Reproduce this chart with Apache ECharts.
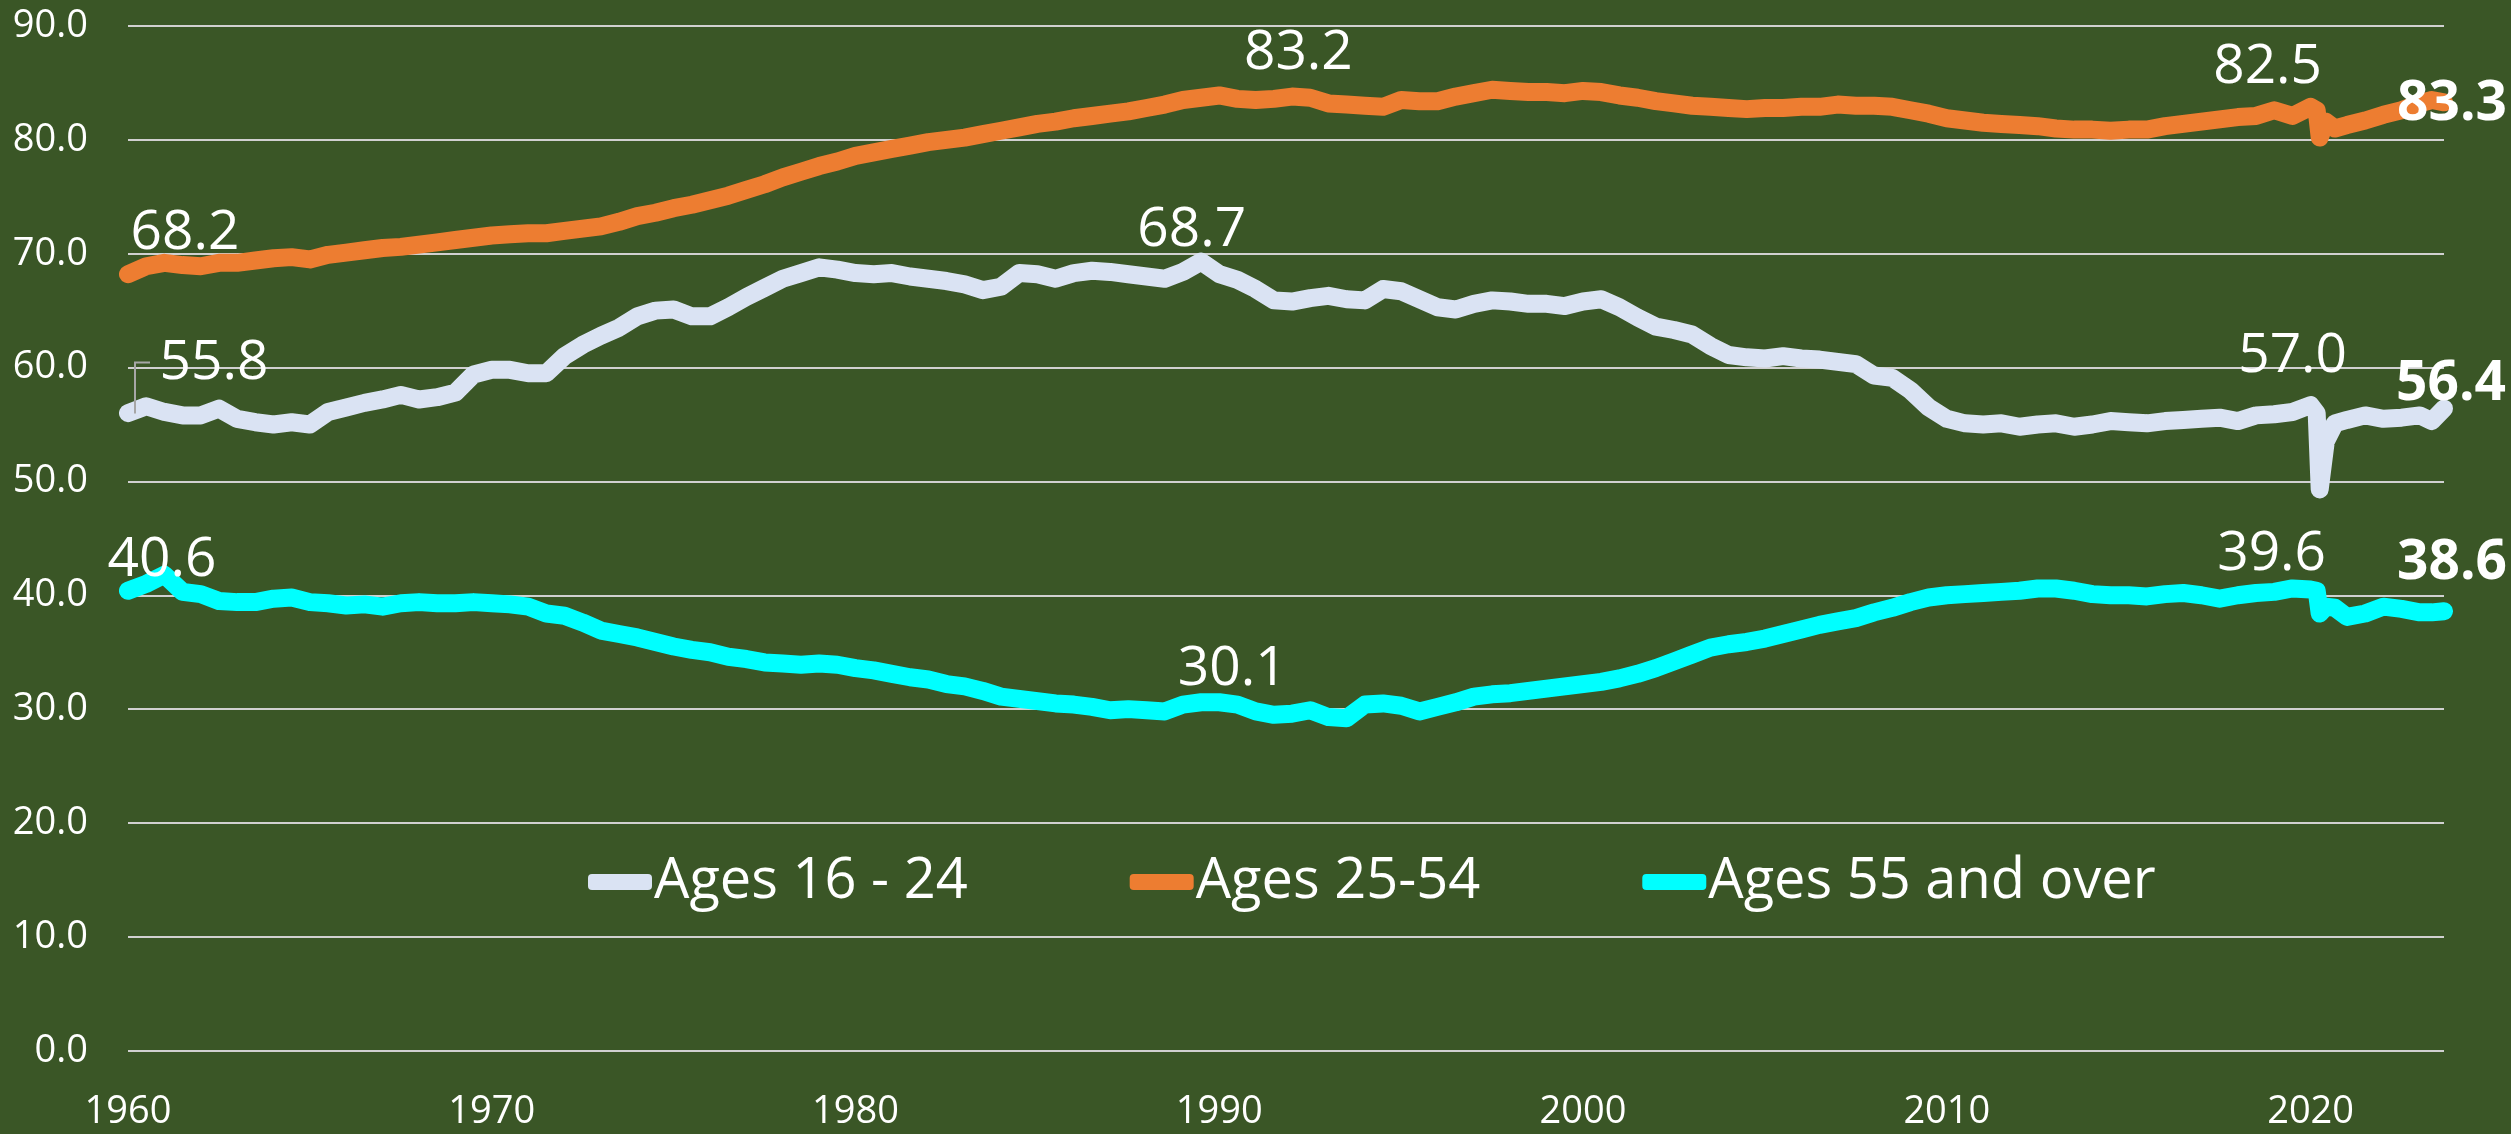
<!DOCTYPE html>
<html>
<head>
<meta charset="utf-8">
<script src="https://cdn.jsdelivr.net/npm/echarts@6/dist/echarts.min.js"></script>
<style>
html,body{margin:0;padding:0;background:#3A5626;}
#c{width:2511px;height:1134px;}
</style>
</head>
<body>
<div id="c"></div>
<script>
// ---- data ----
const years = [
1960.0,1960.5,1961.0,1961.5,1962.0,1962.5,1963.0,1963.5,1964.0,1964.5,
1965.0,1965.5,1966.0,1966.5,1967.0,1967.5,1968.0,1968.5,1969.0,1969.5,
1970.0,1970.5,1971.0,1971.5,1972.0,1972.5,1973.0,1973.5,1974.0,1974.5,
1975.0,1975.5,1976.0,1976.5,1977.0,1977.5,1978.0,1978.5,1979.0,1979.5,
1980.0,1980.5,1981.0,1981.5,1982.0,1982.5,1983.0,1983.5,1984.0,1984.5,
1985.0,1985.5,1986.0,1986.5,1987.0,1987.5,1988.0,1988.5,1989.0,1989.5,
1990.0,1990.5,1991.0,1991.5,1992.0,1992.5,1993.0,1993.5,1994.0,1994.5,
1995.0,1995.5,1996.0,1996.5,1997.0,1997.5,1998.0,1998.5,1999.0,1999.5,
2000.0,2000.5,2001.0,2001.5,2002.0,2002.5,2003.0,2003.5,2004.0,2004.5,
2005.0,2005.5,2006.0,2006.5,2007.0,2007.5,2008.0,2008.5,2009.0,2009.5,
2010.0,2010.5,2011.0,2011.5,2012.0,2012.5,2013.0,2013.5,2014.0,2014.5,
2015.0,2015.5,2016.0,2016.5,2017.0,2017.5,2018.0,2018.5,2019.0,2019.5,
2020.0,2020.167,2020.25,2020.417,2020.667,2021.0,2021.5,2022.0,2022.5,2023.0,2023.333,2023.667
];

const ages16to24 = [
56.0,56.6,56.1,55.8,55.8,56.4,55.5,55.2,55.0,55.2,
55.0,56.1,56.5,56.9,57.2,57.6,57.2,57.4,57.8,59.4,
59.8,59.8,59.5,59.5,61.0,62.0,62.8,63.5,64.5,65.0,
65.1,64.5,64.5,65.3,66.2,67.0,67.8,68.3,68.8,68.6,
68.3,68.2,68.3,68.0,67.8,67.6,67.3,66.8,67.1,68.3,
68.2,67.8,68.3,68.5,68.4,68.2,68.0,67.8,68.4,69.3,
68.2,67.7,66.9,65.9,65.8,66.1,66.3,66.0,65.9,66.9,
66.7,66.0,65.3,65.1,65.6,65.9,65.8,65.6,65.6,65.4,
65.8,66.0,65.3,64.4,63.6,63.3,62.9,61.9,61.1,60.9,
60.8,61.0,60.8,60.7,60.5,60.3,59.3,59.1,58.0,56.5,
55.5,55.1,55.0,55.1,54.8,55.0,55.1,54.8,55.0,55.3,
55.2,55.1,55.3,55.4,55.5,55.6,55.3,55.8,55.9,56.1,
56.7,56.0,49.3,53.5,55.1,55.4,55.8,55.5,55.6,55.8,55.3,56.4
];

const ages25to54 = [
68.2,68.9,69.2,69.0,68.9,69.2,69.2,69.4,69.6,69.7,
69.5,69.9,70.1,70.3,70.5,70.6,70.8,71.0,71.2,71.4,
71.6,71.7,71.8,71.8,72.0,72.2,72.4,72.8,73.3,73.6,
74.0,74.3,74.7,75.1,75.6,76.1,76.7,77.2,77.7,78.1,
78.6,78.9,79.2,79.5,79.8,80.0,80.2,80.5,80.8,81.1,
81.4,81.6,81.9,82.1,82.3,82.5,82.8,83.1,83.5,83.7,
83.9,83.6,83.5,83.6,83.8,83.7,83.2,83.1,83.0,82.9,
83.5,83.4,83.4,83.8,84.1,84.4,84.3,84.2,84.2,84.1,
84.3,84.2,83.9,83.7,83.4,83.2,83.0,82.9,82.8,82.7,
82.8,82.8,82.9,82.9,83.1,83.0,83.0,82.9,82.6,82.3,
81.9,81.7,81.5,81.4,81.3,81.2,81.0,80.9,80.9,80.8,
80.9,80.9,81.2,81.4,81.6,81.8,82.0,82.1,82.6,82.1,
82.9,82.6,80.2,81.6,81.0,81.3,81.7,82.2,82.6,83.2,83.5,83.3
];

const ages55plus = [
40.4,41.0,41.8,40.3,40.1,39.5,39.4,39.4,39.7,39.8,
39.4,39.3,39.1,39.2,39.0,39.3,39.4,39.3,39.3,39.4,
39.3,39.2,39.0,38.4,38.2,37.6,36.9,36.6,36.3,35.9,
35.5,35.2,35.0,34.6,34.4,34.1,34.0,33.9,34.0,33.9,
33.6,33.4,33.1,32.8,32.6,32.2,32.0,31.6,31.1,30.9,
30.7,30.5,30.4,30.2,29.9,30.0,29.9,29.8,30.4,30.6,
30.6,30.4,29.8,29.5,29.6,29.9,29.3,29.2,30.4,30.5,
30.3,29.8,30.2,30.6,31.1,31.3,31.4,31.6,31.8,32.0,
32.2,32.4,32.7,33.1,33.6,34.2,34.8,35.4,35.7,35.9,
36.2,36.6,37.0,37.4,37.7,38.0,38.5,38.9,39.4,39.8,
40.0,40.1,40.2,40.3,40.4,40.6,40.6,40.4,40.1,40.0,
40.0,39.9,40.1,40.2,40.0,39.7,40.0,40.2,40.3,40.6,
40.5,40.4,38.4,39.0,38.9,38.1,38.4,39.0,38.8,38.5,38.5,38.6
];

const seriesNames = ['Ages 16 - 24', 'Ages 25-54', 'Ages 55 and over'];

// annotated values shown as text on the chart: [year, value]
const labels16to24 = [[1960.0, 55.8], [1989.6, 68.7], [2020.0, 57.0], [2023.667, 56.4]];
const labels25to54 = [[1960.0, 68.2], [1992.2, 83.2], [2020.0, 82.5], [2023.667, 83.3]];
const labels55plus = [[1960.0, 40.6], [1990.3, 30.1], [2020.0, 39.6], [2023.667, 38.6]];

// ---- styling ----
const FONT = '"Open Sans", "Noto Sans", sans-serif';
const colors = ['#DAE3F3', '#ED7D31', '#00FFFF'];
const offs16 = [[86,-52],[-13,-38],[-18,-45],[7,-24]];
const offs25 = [[57,-41],[-1,-50],[-43,-44],[8,2]];
const offs55 = [[34,-28],[2,-39],[-39,-46],[8,-48]];

function pairs(vals){ return years.map((y,i)=>[y, vals[i]]); }

function marks(lbls, offs){
  return {
    symbol: 'circle', symbolSize: 1,
    itemStyle: {color: 'rgba(0,0,0,0)'},
    silent: true,
    data: lbls.map((p,i)=>({
      coord: [p[0], p[1]], value: p[1],
      label: {
        show: true, position: 'inside', offset: offs[i],
        formatter: (d)=> Number(d.value).toFixed(1),
        color: '#FFFFFF', fontFamily: FONT, fontSize: 55,
        fontWeight: i === lbls.length-1 ? 'bold' : 'normal'
      }
    }))
  };
}

function mkSeries(name, vals, color, lbls, offs){
  return {
    name: name, type: 'line', data: pairs(vals),
    showSymbol: false, symbol: 'none', smooth: false,
    lineStyle: {color: color, width: 18, cap: 'round', join: 'round'},
    itemStyle: {color: color},
    markPoint: marks(lbls, offs),
    z: 3
  };
}

const chart = echarts.init(document.getElementById('c'), null, {renderer: 'canvas'});
chart.setOption({
  backgroundColor: '#3A5626',
  animation: false,
  grid: {left: 128, right: 67, top: 26, bottom: 83.3, containLabel: false},
  legend: {
    data: seriesNames,
    left: 583, top: 847,
    icon: 'roundRect', itemWidth: 64, itemHeight: 16, itemGap: 162,
    textStyle: {color: '#FFFFFF', fontFamily: FONT, fontSize: 56, lineHeight: 60, padding: [0,0,0,-3]}
  },
  xAxis: {
    type: 'value', min: 1960, max: 2023.667, interval: 10,
    axisLine: {show: false}, axisTick: {show: false}, splitLine: {show: false},
    axisLabel: {
      color: '#FFFFFF', fontFamily: FONT, fontSize: 38, margin: 42, showMaxLabel: false,
      formatter: (v)=> (Math.abs(v % 10) < 1e-6 ? String(Math.round(v)) : '')
    }
  },
  yAxis: {
    type: 'value', min: 0, max: 90, interval: 10,
    axisLine: {show: false}, axisTick: {show: false},
    splitLine: {lineStyle: {color: '#D0D0D0', width: 2}},
    axisLabel: {color: '#FFFFFF', fontFamily: FONT, fontSize: 38, margin: 40,
      formatter: (v)=> v.toFixed(1)}
  },
  series: [
    mkSeries(seriesNames[0], ages16to24, colors[0], labels16to24, offs16),
    mkSeries(seriesNames[1], ages25to54, colors[1], labels25to54, offs25),
    mkSeries(seriesNames[2], ages55plus, colors[2], labels55plus, offs55)
  ]
});

// small leader line for the first 16-24 label, positioned through the chart's scales
const p0 = chart.convertToPixel({gridIndex: 0}, labels16to24[0]);
chart.setOption({
  graphic: [{
    type: 'polyline', silent: true, z: 10,
    shape: {points: [[p0[0]+7, p0[1]-2], [p0[0]+7, p0[1]-53], [p0[0]+22, p0[1]-53]]},
    style: {stroke: '#A6A6A6', lineWidth: 2, fill: null}
  }]
});
</script>
</body>
</html>
